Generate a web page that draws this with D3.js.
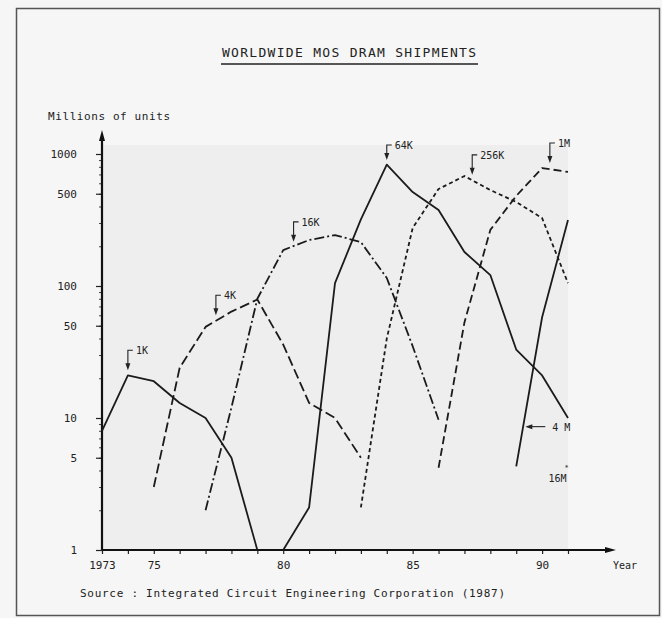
<!DOCTYPE html>
<html>
<head>
<meta charset="utf-8">
<title>Worldwide MOS DRAM shipments</title>
<script src="https://cdn.jsdelivr.net/npm/d3@7"></script>
<style>
  body { margin: 0; background: #f6f6f6; }
  svg { display: block; }
  text { font-family: "DejaVu Sans Mono", monospace; fill: #222; }
</style>
</head>
<body>
<svg id="chart" width="662" height="618"></svg>
<script>
// shipments in millions of units
const years1K = [1973, 1974, 1975, 1976, 1977, 1978, 1979];
const units1K = [8, 21, 19, 13, 10, 5, 1];
const years4K = [1975, 1976, 1977, 1978, 1979, 1980, 1981, 1982, 1983];
const units4K = [3, 24, 49, 64, 79, 36, 13, 10, 5];
const years16K = [1977, 1978, 1979, 1980, 1981, 1982, 1983, 1984, 1985, 1986];
const units16K = [2, 12, 80, 187, 223, 243, 215, 115, 35, 9.7];
const years64K = [1980, 1981, 1982, 1983, 1984, 1985, 1986, 1987, 1988, 1989, 1990, 1991];
const units64K = [1, 2.1, 105, 320, 830, 515, 376, 181, 121, 33, 21, 10];
const years256K = [1983, 1984, 1985, 1986, 1987, 1988, 1989, 1990, 1991];
const units256K = [2.1, 40, 275, 543, 681, 533, 433, 327, 105];
const years1M = [1986, 1987, 1988, 1989, 1990, 1991];
const units1M = [4.2, 53, 266, 481, 783, 731];
const years4M = [1989, 1990, 1991];
const units4M = [4.3, 58, 316];

const seriesNames = ["1K", "4K", "16K", "64K", "256K", "1M", "4M"];
const yTickValues = [1, 5, 10, 50, 100, 500, 1000];
const xTickYears = [1973, 1975, 1980, 1985, 1990];
const xTickText = ["1973", "75", "80", "85", "90"];

// arrow callouts above each peak: year of the arrow, value at its tip
const calloutNames = ["1K", "4K", "16K", "64K", "256K", "1M"];
const calloutYears = [1974, 1977.4, 1980.4, 1984, 1987.3, 1990.3];
const calloutValues = [23, 60, 216, 900, 695, 855];

class ShipmentChart {

  constructor(_config, _series) {
    this.config = {
      parentElement: _config.parentElement,
      containerWidth: _config.containerWidth || 662,
      containerHeight: _config.containerHeight || 618,
      plot: { left: 102, right: 568, top: 154, bottom: 550 }
    }
    this.series = _series;
    this.initVis();
  }

  initVis() {
    let vis = this;
    let p = vis.config.plot;

    vis.svg = d3.select(vis.config.parentElement);

    vis.x = d3.scaleLinear().domain([1973, 1991]).range([p.left, p.right]);
    vis.y = d3.scaleLog().domain([1, 1000]).range([p.bottom, p.top]);

    // page frame and shaded plot area
    vis.svg.append("rect")
      .attr("x", 16.5).attr("y", 8.5)
      .attr("width", 643).attr("height", 607)
      .attr("fill", "#f6f6f6")
      .attr("stroke", "#555")
      .attr("stroke-width", 1.5);

    vis.svg.append("rect")
      .attr("x", p.left).attr("y", 145)
      .attr("width", p.right - p.left).attr("height", p.bottom - 145)
      .attr("fill", "#eeeeee");

    // title
    vis.svg.append("text")
      .attr("x", 222).attr("y", 57)
      .attr("textLength", 254)
      .attr("lengthAdjust", "spacing")
      .style("font-size", "13px")
      .text("WORLDWIDE MOS DRAM SHIPMENTS");

    vis.svg.append("line")
      .attr("x1", 221).attr("x2", 478)
      .attr("y1", 64).attr("y2", 64)
      .attr("stroke", "#222").attr("stroke-width", 1.6);

    vis.svg.append("text")
      .attr("x", 48).attr("y", 120)
      .attr("textLength", 122)
      .attr("lengthAdjust", "spacing")
      .style("font-size", "11px")
      .text("Millions of units");

    vis.svg.append("text")
      .attr("x", 80).attr("y", 597)
      .attr("textLength", 425)
      .attr("lengthAdjust", "spacing")
      .style("font-size", "11px")
      .text("Source : Integrated Circuit Engineering Corporation (1987)");

    vis.svg.append("text")
      .attr("x", 613).attr("y", 569)
      .style("font-size", "10px")
      .text("Year");

    vis.drawAxes();
    vis.updateVis();
  }

  drawAxes() {
    let vis = this;
    let p = vis.config.plot;

    // minor log ticks 2..9 in each decade
    let minor = [];
    [1, 10, 100].forEach(d => d3.range(2, 10).forEach(m => minor.push(d * m)));

    vis.svg.append("g")
      .attr("transform", `translate(${p.left},0)`)
      .call(d3.axisLeft(vis.y).tickValues(minor).tickSize(3).tickFormat(""))
      .call(g => g.select(".domain").remove())
      .call(g => g.selectAll("line").attr("stroke", "#444"));

    vis.svg.append("g")
      .attr("transform", `translate(${p.left},0)`)
      .call(d3.axisLeft(vis.y).tickValues(yTickValues).tickSize(6).tickPadding(19)
        .tickFormat(d3.format("d")))
      .call(g => g.select(".domain").remove())
      .call(g => g.selectAll("line").attr("stroke", "#222").attr("stroke-width", 1.2))
      .call(g => g.selectAll("text")
        .style("font-size", "11px")
        .style("font-family", "DejaVu Sans Mono, monospace")
        .attr("fill", "#222"));

    vis.svg.append("g")
      .attr("transform", `translate(0,${p.bottom})`)
      .call(d3.axisBottom(vis.x).tickValues(d3.range(1973, 1992)).tickSize(4)
        .tickFormat(d => {
          let i = xTickYears.indexOf(d);
          return i < 0 ? "" : xTickText[i];
        }))
      .call(g => g.select(".domain").remove())
      .call(g => g.selectAll("line").attr("stroke", "#222").attr("stroke-width", 1.2))
      .call(g => g.selectAll("text")
        .attr("y", 11)
        .style("font-size", "11px")
        .style("font-family", "DejaVu Sans Mono, monospace")
        .attr("fill", "#222"));

    // axis lines with arrow heads
    vis.svg.append("path")
      .attr("d", `M${p.left},${p.bottom}V137M${p.left},${p.bottom}H609`)
      .attr("fill", "none")
      .attr("stroke", "#111")
      .attr("stroke-width", 2.2);

    vis.svg.append("path")
      .attr("d", `M${p.left},130L${p.left - 3},141L${p.left + 3},141Z`
        + `M616,${p.bottom}L605,${p.bottom - 3}L605,${p.bottom + 3}Z`)
      .attr("fill", "#111");
  }

  updateVis() {
    let vis = this;

    let line = d3.line()
      .x(d => vis.x(d.year))
      .y(d => vis.y(d.value));

    vis.svg.append("g").selectAll("path")
      .data(vis.series)
      .join("path")
      .attr("d", s => line(s.points))
      .attr("fill", "none")
      .attr("stroke", "#1b1b1b")
      .attr("stroke-width", 1.8)
      .attr("stroke-linejoin", "round")
      .attr("stroke-dasharray", s => s.dash);

    vis.renderVis();
  }

  renderVis() {
    let vis = this;

    let callouts = calloutNames.map((name, i) => ({
      name: name,
      cx: vis.x(calloutYears[i]),
      cy: vis.y(calloutValues[i]),
      len: name === "64K" ? 15 : 20
    }));

    let g = vis.svg.append("g").selectAll("g")
      .data(callouts)
      .join("g");

    g.append("path")
      .attr("d", d => `M${d.cx + 5},${d.cy - d.len}H${d.cx}V${d.cy - 5}`)
      .attr("fill", "none")
      .attr("stroke", "#222")
      .attr("stroke-width", 1.1);

    g.append("path")
      .attr("d", d => `M${d.cx - 2.5},${d.cy - 7}L${d.cx + 2.5},${d.cy - 7}L${d.cx},${d.cy}Z`)
      .attr("fill", "#222");

    g.append("text")
      .attr("x", d => d.cx + 8)
      .attr("y", d => d.cy - d.len + 4)
      .style("font-size", "10px")
      .text(d => d.name);

    // 4M pointer from the right and the 16M* note
    let ax = vis.x(1989.35), ay = vis.y(8.6);
    vis.svg.append("path")
      .attr("d", `M${ax + 20},${ay}H${ax + 5}`)
      .attr("stroke", "#222").attr("stroke-width", 1.1);
    vis.svg.append("path")
      .attr("d", `M${ax},${ay}L${ax + 7},${ay - 2.5}L${ax + 7},${ay + 2.5}Z`)
      .attr("fill", "#222");
    vis.svg.append("text")
      .attr("x", ax + 27).attr("y", ay + 4)
      .style("font-size", "10px")
      .text("4 M");

    let nx = vis.x(1990.25), ny = vis.y(3.6);
    vis.svg.append("text")
      .attr("x", nx).attr("y", ny + 5)
      .style("font-size", "10px")
      .text("16M");
    vis.svg.append("text")
      .attr("x", nx + 16).attr("y", ny - 7)
      .style("font-size", "7px")
      .text("*");
  }
}

const seriesYears = [years1K, years4K, years16K, years64K, years256K, years1M, years4M];
const seriesUnits = [units1K, units4K, units16K, units64K, units256K, units1M, units4M];
const seriesDash = [null, "10,4", "10,3,2,3", null, "4,3", "8,4", null];

const series = seriesNames.map((name, i) => ({
  name: name,
  dash: seriesDash[i],
  points: seriesYears[i].map((yr, j) => ({ year: yr, value: seriesUnits[i][j] }))
}));

new ShipmentChart({ parentElement: "#chart" }, series);
</script>
</body>
</html>
